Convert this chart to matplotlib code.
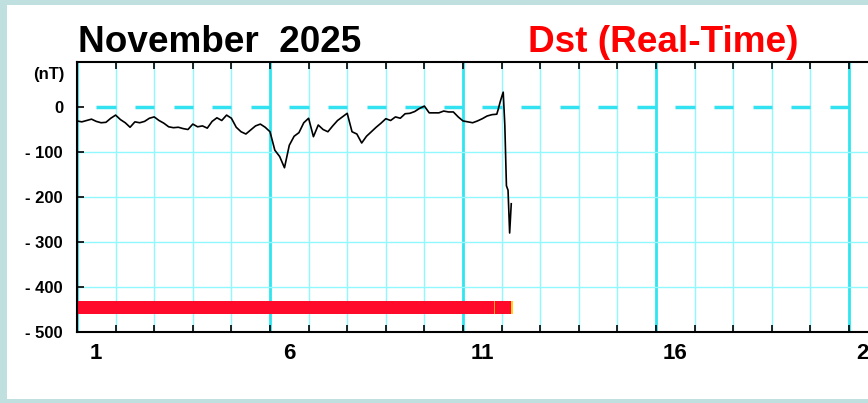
import numpy as np
import matplotlib
matplotlib.use("Agg")
import matplotlib.pyplot as plt
from matplotlib.patches import Rectangle

# ---- data ----
# 3-hourly Dst values (nT), Nov 1 00h .. Nov 11 18h
dst_3h = [
    -31, -33, -30, -27, -32, -35, -34, -25,      # Nov 1
    -18, -28, -35, -45, -33, -35, -32, -25,      # Nov 2
    -22, -30, -36, -44, -46, -45, -48, -50,      # Nov 3
    -38, -44, -42, -47, -32, -24, -30, -18,      # Nov 4
    -25, -45, -55, -60, -51, -42, -38, -45,      # Nov 5
    -55, -96, -110, -135, -85, -65, -57, -35,    # Nov 6
    -25, -66, -40, -50, -55, -42, -30, -22,      # Nov 7
    -14, -55, -60, -80, -65, -55, -45, -36,      # Nov 8
    -26, -30, -22, -25, -15, -14, -10, -3,       # Nov 9
    2, -13, -13, -13, -9, -11, -11, -22,         # Nov 10
    -31, -33, -35, -31, -26, -20, -17,           # Nov 11 00h..18h
]
# hourly values Nov 11 21h .. Nov 12 06h
dst_1h_hours = [261, 262, 263, 264, 265, 266, 267, 268, 269, 270]
dst_1h = [-16, -4, 10, 22, 33, -40, -175, -185, -280, -215]

# colour bar segments (start hour, end hour, colour)
bar_segments = [
    (0, 259, "#ff0a2a"),
    (259, 260, "#ffa020"),
    (260, 270, "#ff0a2a"),
    (270, 271, "#ffd21e"),
]

day_labels = [1, 6, 11, 16, 21, 26]
yticks = [0, -100, -200, -300, -400, -500]
ytick_labels = ["0", "- 100", "- 200", "- 300", "- 400", "- 500"]

hours = np.concatenate([np.arange(len(dst_3h)) * 3, dst_1h_hours])
values = np.concatenate([dst_3h, dst_1h])
x = 1 + hours / 24.0

# ---- figure ----
W, H = 868, 403
fig = plt.figure(figsize=(W / 100, H / 100), dpi=100)
fig.patch.set_facecolor("#c0dfdf")
fig.patches.append(Rectangle((7 / W, 4 / H), 1, (399 - 5) / H,
                             transform=fig.transFigure, facecolor="white",
                             edgecolor="none", zorder=-10))

FONT = "Liberation Sans"
ax = fig.add_axes([77 / W, (H - 332) / H, 30 * 38.6 / W, 270 / H])
ax.set_zorder(5)
ax.set_xlim(1, 31)
ax.set_ylim(-500, 100)
ax.set_facecolor("white")

# grid
for d in range(1, 32):
    thick = (d - 1) % 5 == 0
    ax.axvline(d, color="#2ee6f0" if thick else "#90f8ff",
               lw=2.0 if thick else 1.0, zorder=1)
for yv in yticks[1:-1]:
    ax.axhline(yv, color="#90f8ff", lw=1.0, zorder=1)
dash_starts = np.arange(1, 31) + 0.5
ax.hlines(np.zeros(len(dash_starts)), dash_starts, dash_starts + 0.5,
          color="#33e2f0", lw=2.5, zorder=1)

# bar
for s, e, c in bar_segments:
    ax.barh(-445, (e - s) / 24.0, left=1 + s / 24.0, height=30,
            color=c, edgecolor="none", zorder=2)

# line
ax.plot(x, values, color="black", lw=1.2, zorder=3)

# axes styling
for side in ["left", "bottom", "top"]:
    ax.spines[side].set_linewidth(1.5)
    ax.spines[side].set_color("black")
ax.spines["right"].set_visible(False)

ax.set_xticks([d + 0.5 for d in day_labels])
ax.set_xticklabels([str(d) for d in day_labels], fontsize=16,
                   fontweight="bold", family=FONT)
ax.set_xticks(np.arange(1, 32), minor=True)
ax.tick_params(axis="x", which="major", length=0, pad=8)
ax.tick_params(axis="x", which="minor", direction="in", length=5,
               width=1.2, top=True, bottom=True)

ax.set_yticks(yticks)
ax.set_yticklabels(ytick_labels, fontsize=12, fontweight="bold", family=FONT)
ax.tick_params(axis="y", direction="in", length=5, width=1.2, pad=10)

# texts
fig.text(78 / W, (H - 52) / H, "November  2025", fontsize=26.6,
         fontweight="bold", family=FONT, color="black", ha="left",
         va="baseline")
fig.text(528 / W, (H - 52) / H, "Dst (Real-Time)", fontsize=26.6,
         fontweight="bold", family=FONT, color="#ff0000", ha="left",
         va="baseline")
fig.text(65 / W, (H - 74) / H, "(nT)", fontsize=12, fontweight="bold",
         family=FONT, color="black", ha="right", va="center")

fig.savefig("out.png", dpi=100)
